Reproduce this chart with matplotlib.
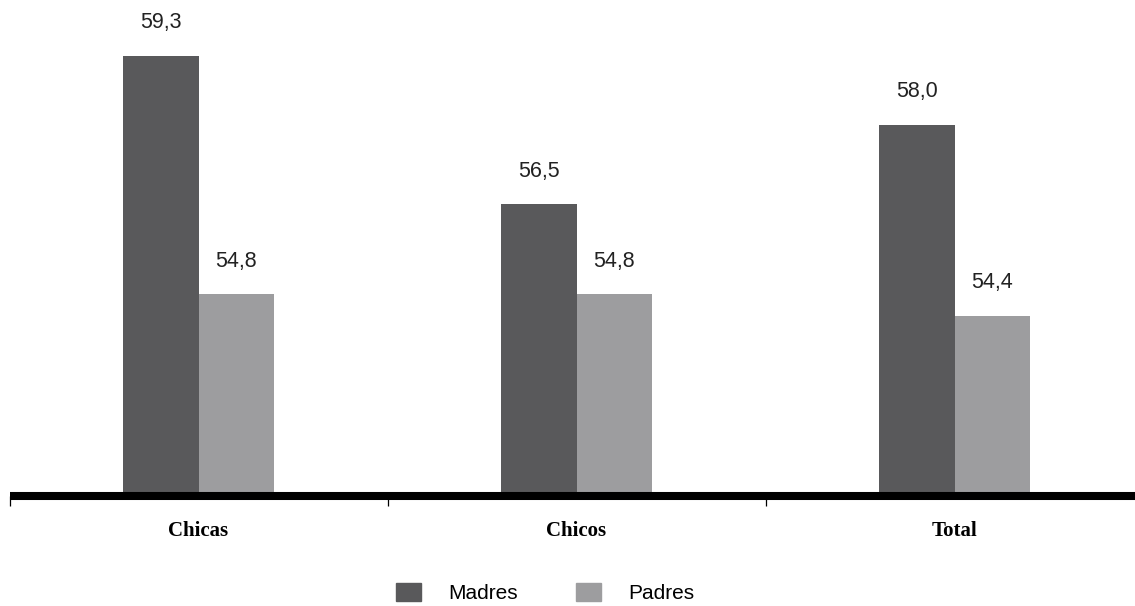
import matplotlib
matplotlib.use('Agg')
import matplotlib.pyplot as plt
from matplotlib import font_manager
from matplotlib.patches import Patch

categories = ['Chicas', 'Chicos', 'Total']
madres = [59.3, 56.5, 58.0]
padres = [54.8, 54.8, 54.4]
series_names = ['Madres', 'Padres']

dark = '#59595b'
light = '#9d9d9f'

installed = {f.name for f in font_manager.fontManager.ttflist}
sans = 'Liberation Sans Narrow' if 'Liberation Sans Narrow' in installed else 'Liberation Sans'
serif = 'Liberation Serif'

W, H = 1135, 606
fig = plt.figure(figsize=(W / 100, H / 100), dpi=100)
ax = fig.add_axes([9.5 / W, 110 / H, 1134 / W, 496 / H])

x = list(range(len(categories)))
w = 0.2
b1 = ax.bar([i - w / 2 for i in x], madres, w, color=dark, zorder=1)
b2 = ax.bar([i + w / 2 for i in x], padres, w, color=light, zorder=1)

for bars, vals in [(b1, madres), (b2, padres)]:
    for r, v in zip(bars, vals):
        ax.annotate(('%.1f' % v).replace('.', ','),
                    (r.get_x() + r.get_width() / 2, v),
                    xytext=(0, 16), textcoords='offset points',
                    ha='center', va='bottom', fontsize=15.5, family=sans, color='#222222')

ax.set_xlim(-0.5, 2.5)
ax.set_ylim(51, 60.35)

for s in ['top', 'right', 'left']:
    ax.spines[s].set_visible(False)
ax.spines['bottom'].set_linewidth(5.8)
ax.spines['bottom'].set_capstyle('butt')
ax.spines['bottom'].set_zorder(3)
ax.set_yticks([])

ax.set_xticks(x)
ax.set_xticklabels(categories, family=serif, fontweight='bold', fontsize=15)
ax.tick_params(axis='x', which='major', length=0, pad=18)
ax.set_xticks([-0.5, 0.5, 1.5, 2.5], minor=True)
ax.tick_params(axis='x', which='minor', length=7.5, width=0.9, direction='out', color='black')

handles = [Patch(color=dark), Patch(color=light)]
fig.legend(handles, series_names, loc='center', bbox_to_anchor=(545 / W, 13 / H),
           ncol=2, frameon=False, prop={'family': sans, 'size': 15},
           handlelength=1.2, handleheight=1.0, handletextpad=1.3, columnspacing=2.8)

fig.savefig('out.png', dpi=100)
